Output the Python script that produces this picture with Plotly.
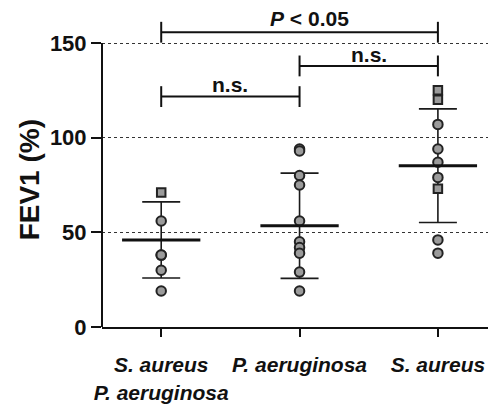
import plotly.graph_objects as go

# ---- data ----
groups = ["S. aureus<br>P. aeruginosa", "P. aeruginosa", "S. aureus"]
group_pos = [0, 1, 2]

circles = [
    [56, 38, 38, 30, 19],
    [94, 93, 80, 75, 56, 45, 42, 39, 29, 19],
    [107, 94, 87, 79, 46, 39],
]
squares = [
    [71],
    [],
    [125, 120, 73],
]
means = [46, 53.5, 85.2]
sds = [20.1, 27.8, 30.0]

y_ticks = [0, 50, 100, 150]
y_title = "FEV1 (%)"

# brackets: (start group, end group, height, label, label x, label y)
br_x0 = [0, 1, 0]
br_x1 = [1, 2, 2]
br_y = [121.7, 137.9, 155.7]
br_label = ["n.s.", "n.s.", "<i>P</i> < 0.05"]
br_label_x = [0.5, 1.5, 1.07]
br_label_y = [128.0, 144.0, 163.0]

FONT = "Liberation Sans, Arial, sans-serif"
MEAN_HALF = 0.283
TICK_HALF = 5.5

fig = go.Figure()

# SD error bars
fig.add_trace(go.Scatter(
    x=group_pos, y=means, mode="markers",
    marker=dict(size=1, color="rgba(0,0,0,0)"),
    error_y=dict(type="data", array=sds, visible=True, color="#1a1a1a",
                 thickness=1.6, width=19),
    showlegend=False, hoverinfo="skip"))

# points
cx, cy, sx, sy = [], [], [], []
for g, vals in zip(group_pos, circles):
    cx += [g] * len(vals)
    cy += vals
for g, vals in zip(group_pos, squares):
    sx += [g] * len(vals)
    sy += vals

fig.add_trace(go.Scatter(
    x=cx, y=cy, mode="markers",
    marker=dict(symbol="circle", size=9.5, color="#9b9b9b",
                line=dict(color="#222222", width=2)),
    showlegend=False))
fig.add_trace(go.Scatter(
    x=sx, y=sy, mode="markers",
    marker=dict(symbol="square", size=8.5, color="#9b9b9b",
                line=dict(color="#222222", width=2)),
    showlegend=False))

# mean lines
mx, my = [], []
for g, m in zip(group_pos, means):
    mx += [g - MEAN_HALF, g + MEAN_HALF, None]
    my += [m, m, None]
fig.add_trace(go.Scatter(x=mx, y=my, mode="lines",
                         line=dict(color="#111111", width=3),
                         showlegend=False, hoverinfo="skip"))

# brackets
bx, by = [], []
for x0, x1, y in zip(br_x0, br_x1, br_y):
    bx += [x0, x0, None, x0, x1, None, x1, x1, None]
    by += [y - TICK_HALF, y + TICK_HALF, None, y, y, None,
           y - TICK_HALF, y + TICK_HALF, None]
fig.add_trace(go.Scatter(x=bx, y=by, mode="lines",
                         line=dict(color="#111111", width=2),
                         showlegend=False, hoverinfo="skip"))

for lab, lx, ly in zip(br_label, br_label_x, br_label_y):
    fig.add_annotation(x=lx, y=ly, text="<b>" + lab + "</b>", showarrow=False,
                       font=dict(family=FONT, size=21, color="#111111"),
                       xanchor="center", yanchor="middle")

# y axis title
fig.add_annotation(xref="paper", yref="paper", x=-0.185, y=0.46,
                   text="<b>" + y_title + "</b>", textangle=-90, showarrow=False,
                   font=dict(family=FONT, size=28, color="#111111"),
                   xanchor="center", yanchor="middle")

# y axis line only from 0 to 150
fig.add_shape(type="line", xref="paper", yref="y", x0=0, x1=0,
              y0=y_ticks[0], y1=y_ticks[-1],
              line=dict(color="#111111", width=2))

# page body has an 8px margin, so the figure is 8px smaller than the window
fig.update_layout(
    width=488, height=398,
    margin=dict(l=94, r=0, t=0, b=79),
    plot_bgcolor="white", paper_bgcolor="white",
    font=dict(family=FONT, color="#111111"),
    xaxis=dict(
        range=[-0.428, 2.42],
        tickmode="array", tickvals=group_pos,
        ticktext=["<b><i>" + g.replace("<br>", "</i></b><br><b><i>") + "</i></b>" for g in groups],
        tickfont=dict(family=FONT, size=21, color="#111111"),
        ticks="outside", ticklen=8, tickwidth=2, tickcolor="#111111",
        ticklabelstandoff=10,
        showline=True, linecolor="#111111", linewidth=2,
        showgrid=False, zeroline=False, automargin=False,
    ),
    yaxis=dict(
        range=[0, 168.5],
        tickmode="array", tickvals=y_ticks,
        ticktext=["<b>%d</b>" % v for v in y_ticks],
        tickfont=dict(family=FONT, size=22, color="#111111"),
        ticks="outside", ticklen=10, tickwidth=2, tickcolor="#111111",
        showline=False, zeroline=False, automargin=False,
        showgrid=True, gridcolor="#333333", griddash="dot", gridwidth=1,
    ),
)

fig.write_html("out.html")
